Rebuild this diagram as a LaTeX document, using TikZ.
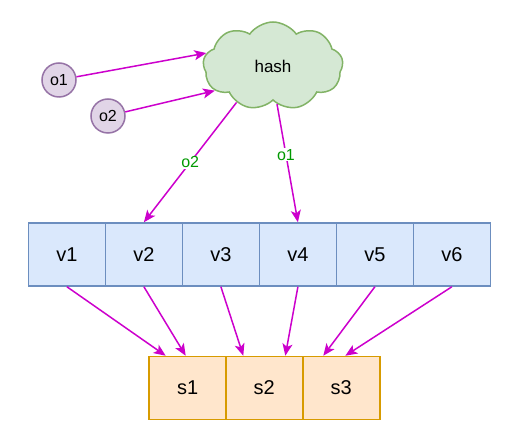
\documentclass[tikz,border=0pt]{standalone}
\usepackage{fontspec}
\setmainfont{Liberation Sans}
\usetikzlibrary{shapes.symbols,arrows.meta}
\newlength{\du}
\setlength{\du}{1pt}
\definecolor{linkcolor}{rgb}{0.800000, 0.000000, 0.800000}
\definecolor{labelcolor}{rgb}{0.000000, 0.600000, 0.000000}
\definecolor{objfill}{rgb}{0.882353, 0.835294, 0.905882}
\definecolor{objline}{rgb}{0.588235, 0.450980, 0.650980}
\definecolor{hashfill}{rgb}{0.835294, 0.909804, 0.831373}
\definecolor{hashline}{rgb}{0.509804, 0.701961, 0.400000}
\definecolor{vfill}{rgb}{0.854902, 0.909804, 0.988235}
\definecolor{vline}{rgb}{0.423529, 0.556863, 0.749020}
\definecolor{sfill}{rgb}{1.000000, 0.901961, 0.800000}
\definecolor{sline}{rgb}{0.843137, 0.607843, 0.000000}
\tikzset{
  vnode/.style={draw=vline, fill=vfill, line width=1.5pt, minimum width=77\du, minimum height=63\du, inner sep=0pt, font=\fontsize{20}{24}\selectfont},
  snode/.style={draw=sline, fill=sfill, line width=1.5pt, minimum width=77\du, minimum height=63\du, inner sep=0pt, font=\fontsize{20}{24}\selectfont},
  onode/.style={circle, draw=objline, fill=objfill, line width=1.5pt, minimum size=34\du, inner sep=0pt, font=\fontsize{16}{19}\selectfont},
  link/.style={draw=linkcolor, line width=1.5pt, -{Stealth[length=12pt,width=10pt,inset=3pt]}},
  linklabel/.style={fill=white, inner sep=1pt, text=labelcolor, font=\fontsize{16}{19}\selectfont}
}
\begin{document}
\begin{tikzpicture}
\pgftransformxscale{1.000000}
\pgftransformyscale{-1.000000}
\useasboundingbox (0\du,0\du) rectangle (522\du,435\du);
% objects and hash
\node[onode] (o1) at (59.000000\du,80.000000\du){o1};
\node[onode] (o2) at (108.000000\du,116.000000\du){o2};
\node[cloud, cloud puffs=9, cloud puff arc=110, cloud ignores aspect, draw=hashline, fill=hashfill, line width=1.5pt, minimum width=140\du, minimum height=88\du, font=\fontsize{17}{20}\selectfont] (hash) at (273.000000\du,66.000000\du){hash};
% virtual nodes
\node[vnode] (v1) at (66.900000\du,254.500000\du){v1};
\node[vnode] (v2) at (143.900000\du,254.500000\du){v2};
\node[vnode] (v3) at (220.900000\du,254.500000\du){v3};
\node[vnode] (v4) at (297.900000\du,254.500000\du){v4};
\node[vnode] (v5) at (374.900000\du,254.500000\du){v5};
\node[vnode] (v6) at (451.900000\du,254.500000\du){v6};
% servers
\node[snode] (s1) at (187.700000\du,388.000000\du){s1};
\node[snode] (s2) at (264.300000\du,388.000000\du){s2};
\node[snode] (s3) at (341.300000\du,388.000000\du){s3};
% links
\draw[link] (o1) -- (hash.169);
\draw[link] (o2) -- (hash.203);
\draw[link] (hash.225) -- node[linklabel]{o2} (v2.north);
\draw[link] (hash.276) -- node[linklabel, pos=0.43]{o1} (v4.north);
\draw[link] (v1.south) -- ([xshift=-22\du]s1.north);
\draw[link] (v2.south) -- ([xshift=-2\du]s1.north);
\draw[link] (v3.south) -- ([xshift=-21\du]s2.north);
\draw[link] (v4.south) -- ([xshift=21\du]s2.north);
\draw[link] (v5.south) -- ([xshift=-18\du]s3.north);
\draw[link] (v6.south) -- ([xshift=4\du]s3.north);
\end{tikzpicture}
\end{document}
